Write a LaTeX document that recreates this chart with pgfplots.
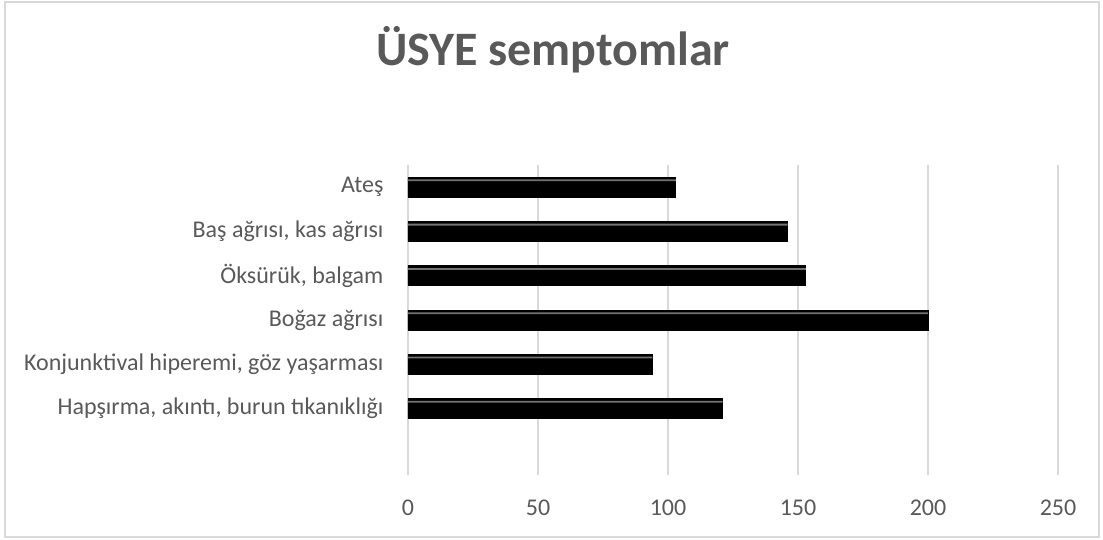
\documentclass[border=0pt]{standalone}
\usepackage{pgfplots}
\pgfplotsset{compat=1.18}
\usepackage{fontspec}
\setmainfont{Carlito}
\definecolor{txt}{HTML}{595959}
\definecolor{gridc}{HTML}{D9D9D9}
\begin{document}
\begin{tikzpicture}
\useasboundingbox (0,0) rectangle (551.5pt,270pt);
\draw[gridc, line width=0.75pt] (2.5pt,1.5pt) rectangle (549.5pt,269pt);
\node[anchor=base, text=txt, font=\fontsize{24}{28}\selectfont\bfseries] at (276.5pt,237pt) {ÜSYE semptomlar};
\begin{axis}[
  at={(204pt,32.5pt)}, anchor=south west,
  scale only axis, width=325pt, height=155pt,
  xbar, bar width=10pt,
  xmin=0, xmax=250, ymin=-0.5, ymax=6.5,
  xtick={0,50,100,150,200,250},
  ytick={1,2,3,4,5,6},
  yticklabels={{Hapşırma, akıntı, burun tıkanıklığı}, {Konjunktival hiperemi, göz yaşarması},
    {Boğaz ağrısı}, {Öksürük, balgam\ }, {Baş ağrısı, kas ağrısı}, {Ateş\ }},
  axis line style={draw=none}, tick style={draw=none},
  xmajorgrids, grid style={color=gridc, line width=0.75pt},
  ticklabel style={font=\fontsize{12}{14}\selectfont, text=txt},
  /pgf/number format/assume math mode=true,
  yticklabel style={xshift=-4.5pt},
  xticklabel style={yshift=-9pt},
]
% bar body
\addplot[draw=black, fill=black, bar shift=0pt]
  coordinates {(121,1) (94,2) (200,3) (153,4) (146,5) (103,6)};
% bevel highlight along the top edge of each bar
\addplot[draw=none, fill=black!55, bar width=0.9pt, bar shift=3.4pt]
  coordinates {(121,1) (94,2) (200,3) (153,4) (146,5) (103,6)};
\end{axis}
\end{tikzpicture}
\end{document}
